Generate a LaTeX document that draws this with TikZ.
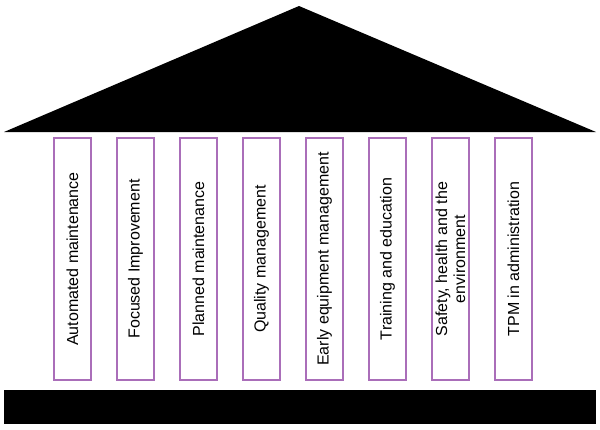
\documentclass[tikz,border=0pt]{standalone}
\usepackage{fontspec}
\setmainfont{Liberation Sans}
\definecolor{pillarline}{RGB}{170,110,185}
\begin{document}
\begin{tikzpicture}[x=1pt,y=-1pt,
  pillar/.style={draw=pillarline, line width=1.2pt, fill=white, minimum width=37pt, minimum height=242pt, inner sep=0pt},
  lbl/.style={rotate=90, font=\fontsize{16}{18}\selectfont, align=center, text=black}]
\useasboundingbox (0,0) rectangle (600,429);
\fill[black] (4,132) -- (299,6) -- (596,132) -- cycle;
\node[fill=black, minimum width=592pt, minimum height=34pt, inner sep=0pt, anchor=north west] (base) at (4,390) {};
\foreach \i/\t in {0/Automated maintenance, 1/Focused Improvement, 2/Planned maintenance, 3/Quality management, 4/Early equipment management, 5/Training and education, 6/{Safety, health and the\\environment}, 7/TPM in administration}{
  \node[pillar] (p\i) at ({72.5+63*\i},259) {};
  \node[lbl] (t\i) at (p\i) {\t};
}
\end{tikzpicture}
\end{document}
